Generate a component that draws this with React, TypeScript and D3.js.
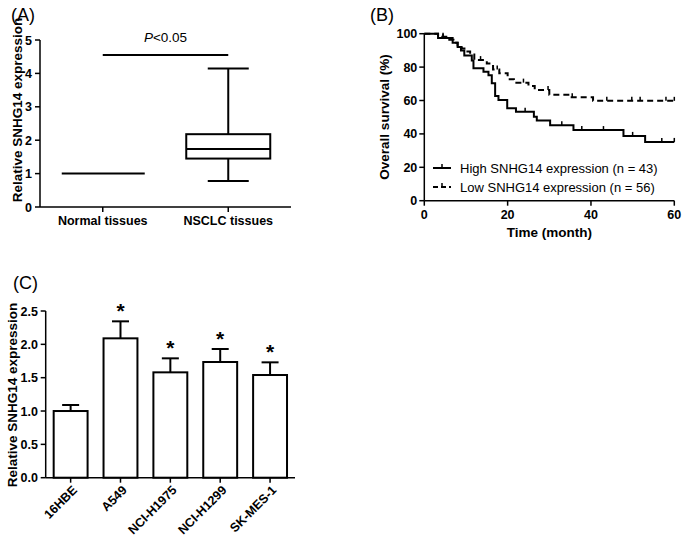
import React from "react";
import * as d3 from "d3";

// ---------- Panel A data ----------
const groupsA = ["Normal tissues", "NSCLC tissues"];
const normalLevel = 1.0;
const nsclcBox = { min: 0.78, q1: 1.45, median: 1.74, q3: 2.18, max: 4.15 };
const ticksA = [0, 1, 2, 3, 4, 5];

// ---------- Panel B data ----------
const highSteps: [number, number][] = [
  [0, 100], [3.3, 97.4], [6.8, 94.6], [8, 92], [8.8, 90], [9.6, 87], [11.4, 84],
  [11.8, 79.3], [14.2, 77.2], [15.4, 75.1], [16.2, 70.3], [17, 62.7], [17.8, 60.3],
  [19.9, 55.3], [22, 53.3], [26.3, 50.3], [27, 48], [30.2, 45.2], [35.8, 42.3],
  [47.8, 38.8], [53, 35.2],
];
const highCensor = [4.5, 24.2, 33, 37.8, 43, 50, 57, 60];
const lowSteps: [number, number][] = [
  [0, 100], [3.3, 98.2], [6, 96.4], [7, 94.6], [8, 92.9], [9, 91.1], [10, 89.3],
  [11, 87.5], [12, 84.2], [15, 82.1], [16.5, 78.6], [18, 76.3], [20, 72.7],
  [21.5, 70.7], [25, 68.7], [26.5, 66.3], [30, 63.5], [35, 61.9], [40.5, 59.8],
];
const lowCensor = [4.5, 13.5, 17.5, 23.8, 29.7, 35.5, 43.8, 49.8, 51.8, 58, 60];
const legendB = ["High SNHG14 expression (n = 43)", "Low SNHG14 expression (n = 56)"];
const ticksBx = [0, 20, 40, 60];
const ticksBy = [0, 20, 40, 60, 80, 100];

// ---------- Panel C data ----------
const cellLines = ["16HBE", "A549", "NCI-H1975", "NCI-H1299", "SK-MES-1"];
const cellMeans = [1.0, 2.09, 1.58, 1.735, 1.54];
const cellErr = [0.09, 0.255, 0.21, 0.195, 0.19];
const cellSig = [false, true, true, true, true];
const ticksC = [0, 0.5, 1.0, 1.5, 2.0, 2.5];

const FONT = "'Liberation Sans', Arial, Helvetica, sans-serif";

function stepAt(steps: [number, number][], t: number) {
  let s = steps[0][1];
  for (const [tt, v] of steps) if (tt <= t) s = v;
  return s;
}

export default function App() {
  // Panel A scales
  const yA = d3.scaleLinear().domain([0, 5]).range([207, 40]);
  const xA = d3.scalePoint<string>().domain(groupsA).range([40, 291]).padding(0.5);

  // Panel B scales
  const xB = d3.scaleLinear().domain([0, 60]).range([424.3, 674.3]);
  const yB = d3.scaleLinear().domain([0, 100]).range([200.7, 33.7]);
  const lineB = d3
    .line<[number, number]>()
    .x((d) => xB(d[0]))
    .y((d) => yB(d[1]))
    .curve(d3.curveStepAfter);
  const highPath = lineB([...highSteps, [60, highSteps[highSteps.length - 1][1]]]) || "";
  const lowPath = lineB([...lowSteps, [60, lowSteps[lowSteps.length - 1][1]]]) || "";

  // Panel C scales
  const yC = d3.scaleLinear().domain([0, 2.5]).range([477.7, 311]);
  const xC = d3.scaleBand<string>().domain(cellLines).range([45.7, 295]).paddingInner(0.32).paddingOuter(0.16);

  const axisStroke = 1.5;

  return (
    <svg width={682} height={536} style={{ position: "absolute", left: 0, top: 0, background: "#fff" }} fontFamily={FONT}>
      <rect x={0} y={0} width={682} height={536} fill="#fff" />

      {/* ================= Panel A ================= */}
      <text x={11} y={21} fontSize={18}>(A)</text>
      <text transform="translate(22,110) rotate(-90)" textAnchor="middle" fontSize={13.5} fontWeight="bold">
        Relative SNHG14 expression
      </text>
      <line x1={40} x2={40} y1={yA(5)} y2={yA(0)} stroke="#000" strokeWidth={axisStroke} />
      <line x1={40} x2={291} y1={yA(0)} y2={yA(0)} stroke="#000" strokeWidth={axisStroke} />
      {ticksA.map((t) => (
        <g key={"ta" + t}>
          <line x1={35} x2={40} y1={yA(t)} y2={yA(t)} stroke="#000" strokeWidth={axisStroke} />
          <text x={32} y={yA(t)} dy="0.36em" textAnchor="end" fontSize={12.5} fontWeight="bold">{t}</text>
        </g>
      ))}
      {groupsA.map((g) => (
        <g key={g}>
          <line x1={xA(g)} x2={xA(g)} y1={yA(0)} y2={yA(0) + 5} stroke="#000" strokeWidth={axisStroke} />
          <text x={xA(g)} y={yA(0) + 18} textAnchor="middle" fontSize={12.5} fontWeight="bold">{g}</text>
        </g>
      ))}
      {/* normal line */}
      <line x1={(xA(groupsA[0]) as number) - 41} x2={(xA(groupsA[0]) as number) + 42} y1={yA(normalLevel)} y2={yA(normalLevel)} stroke="#000" strokeWidth={2} />
      {/* box */}
      {(() => {
        const cx = xA(groupsA[1]) as number;
        const hw = 42;
        const cap = 20.5;
        return (
          <g stroke="#000" strokeWidth={2} fill="none">
            <line x1={cx} x2={cx} y1={yA(nsclcBox.max)} y2={yA(nsclcBox.q3)} />
            <line x1={cx} x2={cx} y1={yA(nsclcBox.q1)} y2={yA(nsclcBox.min)} />
            <line x1={cx - cap} x2={cx + cap} y1={yA(nsclcBox.max)} y2={yA(nsclcBox.max)} />
            <line x1={cx - cap} x2={cx + cap} y1={yA(nsclcBox.min)} y2={yA(nsclcBox.min)} />
            <rect x={cx - hw} y={yA(nsclcBox.q3)} width={hw * 2} height={yA(nsclcBox.q1) - yA(nsclcBox.q3)} />
            <line x1={cx - hw} x2={cx + hw} y1={yA(nsclcBox.median)} y2={yA(nsclcBox.median)} />
          </g>
        );
      })()}
      {/* significance */}
      <line x1={xA(groupsA[0])} x2={xA(groupsA[1])} y1={55} y2={55} stroke="#000" strokeWidth={2} />
      <text x={(((xA(groupsA[0]) as number) + (xA(groupsA[1]) as number)) / 2)} y={42} textAnchor="middle" fontSize={13.5}>
        <tspan fontStyle="italic">P</tspan>&lt;0.05
      </text>

      {/* ================= Panel B ================= */}
      <text x={370} y={21} fontSize={18}>(B)</text>
      <text transform="translate(389,117) rotate(-90)" textAnchor="middle" fontSize={13.5} fontWeight="bold">
        Overall survival (%)
      </text>
      <line x1={xB(0)} x2={xB(0)} y1={yB(100)} y2={yB(0)} stroke="#000" strokeWidth={axisStroke} />
      <line x1={xB(0)} x2={xB(60)} y1={yB(0)} y2={yB(0)} stroke="#000" strokeWidth={axisStroke} />
      {ticksBy.map((t) => (
        <g key={"tby" + t}>
          <line x1={xB(0) - 5} x2={xB(0)} y1={yB(t)} y2={yB(t)} stroke="#000" strokeWidth={axisStroke} />
          <text x={xB(0) - 7} y={yB(t)} dy="0.36em" textAnchor="end" fontSize={12.5} fontWeight="bold">{t}</text>
        </g>
      ))}
      {ticksBx.map((t) => (
        <g key={"tbx" + t}>
          <line x1={xB(t)} x2={xB(t)} y1={yB(0)} y2={yB(0) + 5} stroke="#000" strokeWidth={axisStroke} />
          <text x={xB(t)} y={yB(0) + 18} textAnchor="middle" fontSize={12.5} fontWeight="bold">{t}</text>
        </g>
      ))}
      <text x={xB(30)} y={237} textAnchor="middle" fontSize={13.5} fontWeight="bold">Time (month)</text>
      <path d={lowPath} fill="none" stroke="#000" strokeWidth={2} strokeDasharray="6,4" />
      <path d={highPath} fill="none" stroke="#000" strokeWidth={2} />
      {highCensor.map((t, i) => (
        <line key={"hc" + i} x1={xB(t)} x2={xB(t)} y1={yB(stepAt(highSteps, t))} y2={yB(stepAt(highSteps, t)) - 4} stroke="#000" strokeWidth={1.5} />
      ))}
      {lowCensor.map((t, i) => (
        <line key={"lc" + i} x1={xB(t)} x2={xB(t)} y1={yB(stepAt(lowSteps, t))} y2={yB(stepAt(lowSteps, t)) - 4} stroke="#000" strokeWidth={1.5} />
      ))}
      {/* legend */}
      {legendB.map((lab, i) => {
        const ly = 168 + i * 19;
        return (
          <g key={lab}>
            <line x1={433} x2={451} y1={ly} y2={ly} stroke="#000" strokeWidth={2} strokeDasharray={i === 0 ? undefined : "5,3"} />
            <line x1={442} x2={442} y1={ly} y2={ly - 4} stroke="#000" strokeWidth={1.5} />
            <text x={460} y={ly} dy="0.36em" fontSize={13}>{lab}</text>
          </g>
        );
      })}

      {/* ================= Panel C ================= */}
      <text x={13} y={289} fontSize={18}>(C)</text>
      <text transform="translate(17,395) rotate(-90)" textAnchor="middle" fontSize={13.5} fontWeight="bold">
        Relative SNHG14 expression
      </text>
      <line x1={45.7} x2={45.7} y1={yC(2.5)} y2={yC(0)} stroke="#000" strokeWidth={axisStroke} />
      <line x1={45.7} x2={295} y1={yC(0)} y2={yC(0)} stroke="#000" strokeWidth={axisStroke} />
      {ticksC.map((t) => (
        <g key={"tc" + t}>
          <line x1={40.7} x2={45.7} y1={yC(t)} y2={yC(t)} stroke="#000" strokeWidth={axisStroke} />
          <text x={38} y={yC(t)} dy="0.36em" textAnchor="end" fontSize={12.5} fontWeight="bold">{t.toFixed(1)}</text>
        </g>
      ))}
      {cellLines.map((c, i) => {
        const x0 = xC(c) as number;
        const bw = xC.bandwidth();
        const cx = x0 + bw / 2;
        const top = yC(cellMeans[i]);
        const errTop = yC(cellMeans[i] + cellErr[i]);
        return (
          <g key={c}>
            <line x1={cx} x2={cx} y1={top} y2={errTop} stroke="#000" strokeWidth={2} />
            <line x1={cx - 8.5} x2={cx + 8.5} y1={errTop} y2={errTop} stroke="#000" strokeWidth={2} />
            <rect x={x0} y={top} width={bw} height={yC(0) - top} fill="#fff" stroke="#000" strokeWidth={2} />
            {cellSig[i] && (
              <text x={cx} y={errTop - 3} textAnchor="middle" fontSize={21} fontWeight="bold">*</text>
            )}
            <line x1={cx} x2={cx} y1={yC(0)} y2={yC(0) + 5} stroke="#000" strokeWidth={axisStroke} />
            <text transform={`translate(${cx + 4},${yC(0) + 10}) rotate(-45)`} textAnchor="end" fontSize={12.5} fontWeight="bold" dy="0.36em">
              {c}
            </text>
          </g>
        );
      })}
    </svg>
  );
}
